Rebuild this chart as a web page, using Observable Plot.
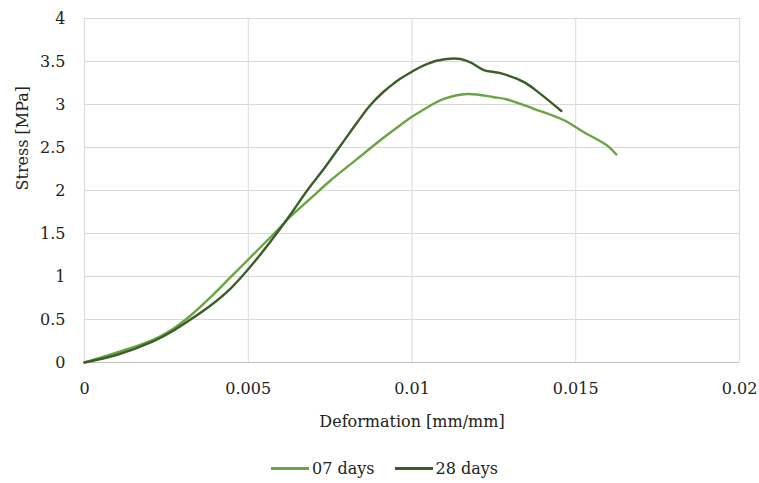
<!DOCTYPE html>
<html>
<head>
<meta charset="utf-8">
<script src="https://cdn.jsdelivr.net/npm/d3@7"></script>
<script src="https://cdn.jsdelivr.net/npm/@observablehq/plot@0.6"></script>
<style>
  html, body { margin: 0; padding: 0; background: #fff; }
  #chart { width: 759px; font-family: "DejaVu Serif", serif; }
  .legend { display: flex; justify-content: center; gap: 20px; margin-top: 14px; padding-left: 10px;
            font-family: "DejaVu Serif", serif; font-size: 16px; color: #222; }
  .legend .item { display: flex; align-items: center; gap: 3px; }
  .legend .sw { width: 38px; height: 3px; display: inline-block; }
</style>
</head>
<body>
<div id="chart"></div>
<script>
const seriesNames = ["07 days", "28 days"];
const seriesColors = ["#6aa443", "#3b5e26"];

const strain07 = [0, 0.00102, 0.00204, 0.00263, 0.00324, 0.00385, 0.00446, 0.00507, 0.00588, 0.00629, 0.0069, 0.00751, 0.00833, 0.00904, 0.00965, 0.01001, 0.01026, 0.01097, 0.01169, 0.0125, 0.01291, 0.01372, 0.01464, 0.01525, 0.01596, 0.01624];
const stress07 = [0, 0.12, 0.256, 0.372, 0.547, 0.76, 0.992, 1.224, 1.535, 1.698, 1.907, 2.116, 2.368, 2.587, 2.762, 2.86, 2.919, 3.064, 3.122, 3.085, 3.058, 2.95, 2.817, 2.678, 2.523, 2.419];

const strain28 = [0, 0.00102, 0.00204, 0.00263, 0.00324, 0.00385, 0.00446, 0.00507, 0.00568, 0.00629, 0.0068, 0.00731, 0.00782, 0.00833, 0.00873, 0.00914, 0.00944, 0.00965, 0.01001, 0.01026, 0.01067, 0.01107, 0.01128, 0.01148, 0.01179, 0.01219, 0.0127, 0.01342, 0.01392, 0.01456];
const stress28 = [0, 0.093, 0.236, 0.352, 0.5, 0.663, 0.86, 1.116, 1.407, 1.721, 2.0, 2.252, 2.523, 2.794, 2.994, 3.151, 3.244, 3.302, 3.384, 3.436, 3.5, 3.529, 3.535, 3.529, 3.488, 3.401, 3.364, 3.26, 3.124, 2.924];

const xTicks = [0, 0.005, 0.01, 0.015, 0.02];
const yTicks = [0, 0.5, 1, 1.5, 2, 2.5, 3, 3.5, 4];

const d07 = strain07.map((x, i) => ({x, y: stress07[i], s: seriesNames[0]}));
const d28 = strain28.map((x, i) => ({x, y: stress28[i], s: seriesNames[1]}));

const chart = Plot.plot({
  width: 759,
  height: 445,
  marginLeft: 84,
  marginRight: 20,
  marginTop: 18,
  marginBottom: 83,
  style: { fontFamily: "DejaVu Serif, serif", fontSize: "16px", color: "#222", background: "#fff" },
  x: { domain: [0, 0.02], ticks: xTicks, tickFormat: d => String(d), label: null },
  y: { domain: [0, 4], ticks: yTicks, tickFormat: d => String(d), label: null },
  marks: [
    Plot.gridX(xTicks, { stroke: "#d9d9d9", strokeOpacity: 1, strokeWidth: 1 }),
    Plot.gridY(yTicks, { stroke: "#d9d9d9", strokeOpacity: 1, strokeWidth: 1 }),
    Plot.ruleY([0], { stroke: "#bfbfbf", strokeWidth: 1.2 }),
    Plot.axisX(xTicks, { tickSize: 0, tickPadding: 20, fontSize: 16, tickFormat: d => String(d) }),
    Plot.axisY(yTicks, { tickSize: 0, tickPadding: 19, fontSize: 16, tickFormat: d => String(d) }),
    Plot.line(d07, { x: "x", y: "y", stroke: seriesColors[0], strokeWidth: 2.4, curve: "catmull-rom" }),
    Plot.line(d28, { x: "x", y: "y", stroke: seriesColors[1], strokeWidth: 2.4, curve: "catmull-rom" }),
    Plot.text(["Deformation [mm/mm]"], { frameAnchor: "bottom", dy: 64, fontSize: 16, fill: "#222" }),
    Plot.text(["Stress [MPa]"], { frameAnchor: "left", dx: -62, rotate: -90, fontSize: 16, fill: "#222" })
  ]
});
document.getElementById("chart").appendChild(chart);

const legend = document.createElement("div");
legend.className = "legend";
seriesNames.forEach((name, i) => {
  const item = document.createElement("span");
  item.className = "item";
  const sw = document.createElement("span");
  sw.className = "sw";
  sw.style.background = seriesColors[i];
  const t = document.createElement("span");
  t.textContent = name;
  item.appendChild(sw);
  item.appendChild(t);
  legend.appendChild(item);
});
document.getElementById("chart").appendChild(legend);
</script>
</body>
</html>
